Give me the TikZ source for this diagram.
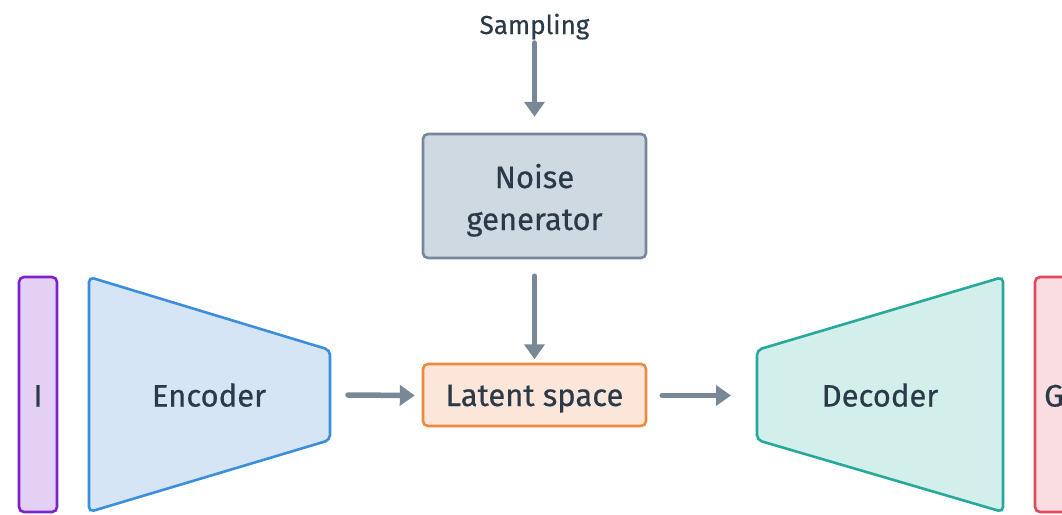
\documentclass[tikz,border=0pt]{standalone}
\usepackage{fontspec}
\setmainfont{Fira Sans}[FakeBold=0.5]
\usetikzlibrary{arrows.meta}
\definecolor{ink}{HTML}{2B3A48}
\definecolor{arrowgray}{HTML}{788896}
\definecolor{inFill}{HTML}{E4D0F3}
\definecolor{inLine}{HTML}{7E22CE}
\definecolor{encFill}{HTML}{D5E5F5}
\definecolor{encLine}{HTML}{3A8EDC}
\definecolor{latFill}{HTML}{FBE6D9}
\definecolor{latLine}{HTML}{EE8A3E}
\definecolor{noiseFill}{HTML}{CFD9E1}
\definecolor{noiseLine}{HTML}{77889A}
\definecolor{decFill}{HTML}{D2EFEC}
\definecolor{decLine}{HTML}{26A999}
\definecolor{genFill}{HTML}{F9DDE1}
\definecolor{genLine}{HTML}{E04A5C}
\tikzset{
  lbl/.style={text=ink, font=\fontsize{31}{43}\selectfont, align=center,
    text height=21pt, text depth=0pt, inner sep=0pt},
  boxshape/.style={line width=2.6pt, rounded corners=5pt},
  flow/.style={draw=arrowgray, line width=5.5pt, line cap=round,
    -{Triangle[length=15pt,width=20pt]}},
}
\begin{document}
\begin{tikzpicture}[x=1pt,y=-1pt]
  \useasboundingbox (0,0) rectangle (1062,514);

  % input strip
  \draw[boxshape, fill=inFill, draw=inLine] (19,277) rectangle (57,512);
  \node[lbl] (in) at (38,396) {I};

  % encoder trapezoid
  \draw[boxshape, fill=encFill, draw=encLine]
    (89,277) -- (330,350) -- (330,440) -- (89,512) -- cycle;
  \node[lbl] (enc) at (209,396) {Encoder};
  \coordinate (encOut) at (348,395);

  % latent space
  \draw[boxshape, draw=latLine, fill=latFill] (423,364) rectangle (646,426);
  \node[lbl, minimum width=223pt, minimum height=62pt] (lat) at (534.5,395.5) {Latent space};

  % noise generator
  \draw[boxshape, draw=noiseLine, fill=noiseFill] (423,134) rectangle (646,258);
  \node[lbl, minimum width=223pt, minimum height=124pt] (noise) at (534.5,196) {};
  \node[lbl] (noiseA) at (534.5,177.5) {Noise};
  \node[lbl, anchor=base] (noiseB) at (534.5,230) {generator};

  % sampling label
  \node[text=ink, font=\fontsize{26}{30}\selectfont, inner sep=0pt,
        text height=18pt, text depth=0pt] (samp) at (534.5,25) {Sampling};
  \coordinate (sampOut) at (534.5,43);

  % decoder trapezoid
  \draw[boxshape, fill=decFill, draw=decLine]
    (757,350) -- (1003,277) -- (1003,512) -- (757,440) -- cycle;
  \node[lbl] (dec) at (880,396) {Decoder};
  \coordinate (decIn) at (731,395.5);

  % generated output strip (runs past the right edge)
  \begin{scope}
    \clip (0,0) rectangle (1062,514);
    \draw[boxshape, fill=genFill, draw=genLine] (1035,277) rectangle (1090,512);
  \end{scope}
  \node[lbl, anchor=west] (gen) at (1044,396) {G};

  % connectors
  \draw[flow] (sampOut) -- ([yshift=17pt]noise.north);
  \draw[flow] ([yshift=-18pt]noise.south) -- ([yshift=5pt]lat.north);
  \draw[flow] (encOut) -- ([xshift=-8pt]lat.west);
  \draw[flow] ([xshift=16pt]lat.east) -- (decIn);
\end{tikzpicture}
\end{document}
